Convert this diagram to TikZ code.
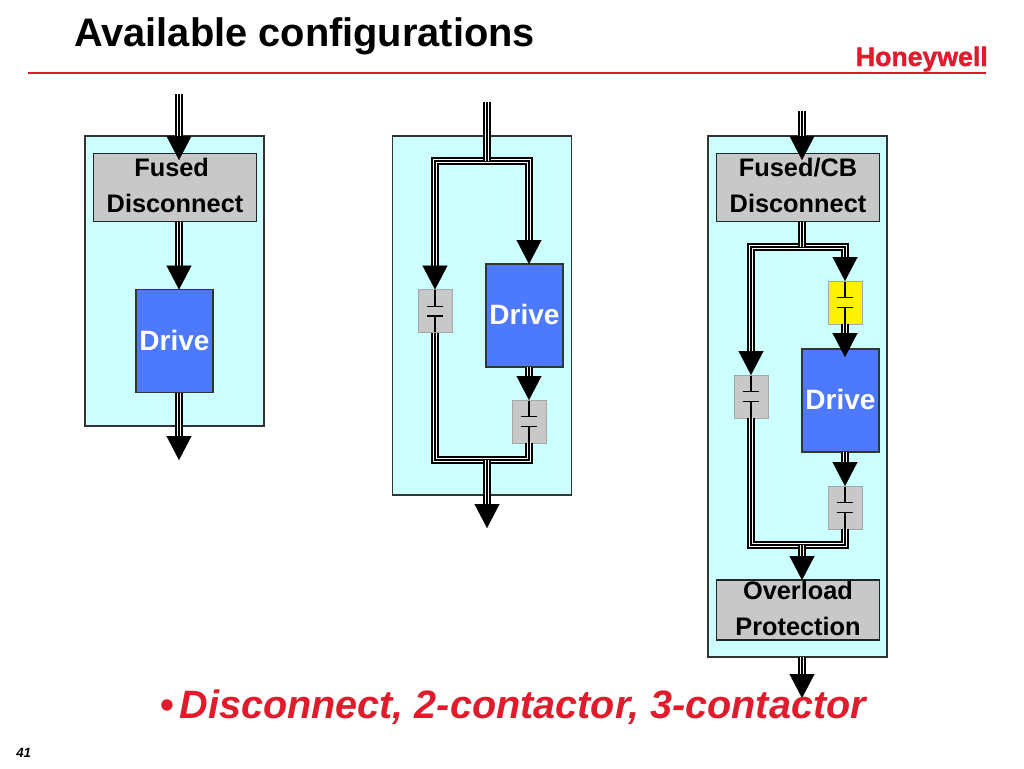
\documentclass[tikz,border=0pt]{standalone}
\usepackage{fontspec}
\setmainfont{Liberation Sans}
\newfontfamily\logofont[FakeBold=1.5]{Liberation Sans Bold}
\usetikzlibrary{calc,arrows.meta}
\definecolor{mycyan}{RGB}{204, 255, 255}
\definecolor{mygray1}{RGB}{200, 200, 200}
\definecolor{myblue}{RGB}{77, 121, 255}
\definecolor{myred}{RGB}{224, 28, 44}
\newcommand{\lowfill}{\rule[-3pt]{0pt}{3pt}}
\tikzset{>=latex}

\begin{document}
\begin{tikzpicture}[
    x = 0.75pt, y = -0.75pt,
    panel/.style = {draw = black!80, line width = 1pt, fill = mycyan, minimum width = 134.25pt, inner sep = 0, outer sep = 0},
    unit/.style = {draw = black!85!mycyan, line width = 1.2pt, fill = mygray1, minimum width = 122pt, align = center, inner sep = 0, outer sep = 0, font = \fontsize{19}{27}\selectfont\bfseries},
    drive/.style = {draw = black!80, line width = 0.9pt, fill = myblue, text = white, text depth = 1.5pt, minimum width = 57.75pt, minimum height = 77.25pt, inner sep = 0, outer sep = 0, font = \fontsize{21}{25}\selectfont\bfseries},
    contactor/.style = {draw = black!35, line width = 0.7pt, fill = mygray1, minimum width = 25.5pt, minimum height = 32.25pt, inner sep = 0, outer sep = 0,
        path picture = {
            \draw[black, line width = 0.9pt] (path picture bounding box.north) -- ++(0, -12.6pt) ++(-6.2pt, 0) -- ++(12.4pt, 0);
            \draw[black, line width = 0.9pt] (path picture bounding box.south) -- ++(0, 12.4pt) ++(-6.2pt, 0) -- ++(12.4pt, 0);
        }},
    bus/.style = {line width = 6.4pt, postaction = {draw = white, line width = 3.4pt}, postaction = {draw = black, line width = 2pt}},
    busarrow/.style = {bus, shorten > = 17pt, postaction = {draw = black, line width = 0.1pt, shorten > = 0pt, -{Triangle[width = 18.75pt, length = 18pt]}}}
]
\useasboundingbox (0,0) rectangle (1024,768);

% title and logo
\node[anchor = base west, inner sep = 0, font = \fontsize{29.85}{36}\selectfont\bfseries] (title) at (74,46) {Available configurations};
\node[anchor = base east, inner sep = 0, text = myred, font = \fontsize{20}{24}\selectfont\logofont] (logo) at (988,66) {Honeywell};
\coordinate (ruleL) at (28,73);
\coordinate (ruleR) at (986,73);
\draw[myred, line width = 1.9pt] (ruleL) -- (ruleR);

% panels
\node[panel, minimum height = 217.5pt] (panel1) at (174.5,281) {};
\node[panel, minimum height = 269.25pt] (panel2) at (482,315.5) {};
\node[panel, minimum height = 390.75pt] (panel3) at (797.5,396.5) {};

% disconnect
\node[unit, minimum height = 51pt] (dis1) at (175,187.5) {Fused\hspace*{5pt}\\Disconnect\lowfill};
\node[drive] (drv1) at (174.5,341) {Drive};
\coordinate (in1) at (179,94);
\coordinate (tip1) at (179,160);
\coordinate (out1) at (179,460);
\draw[busarrow] (in1) -- (tip1);
\draw[busarrow] (in1 |- dis1.south) -- (in1 |- drv1.north);
\draw[busarrow] (in1 |- drv1.south) -- (out1);

% 2-contactor
\node[drive] (drv2) at (524.5,315.5) {Drive};
\node[contactor] (con2l) at (435,311) {};
\node[contactor] (con2r) at (529,421.5) {};
\coordinate (in2) at (487,102);
\coordinate (top2) at (487,161);
\coordinate (bot2) at (487,460);
\coordinate (out2) at (487,528);
\draw[busarrow] (top2) -| (con2l.north);
\draw[busarrow] (top2) -| (con2r.north |- drv2.north);
\draw[bus] (in2) -- (top2);
\draw[busarrow] (con2r.north |- drv2.south) -- (con2r.north);
\draw[bus] (con2l.south) |- (bot2);
\draw[bus] (con2r.south) |- (bot2);
\draw[busarrow] (bot2) -- (out2);

% 3-contactor
\node[unit, minimum height = 51pt] (dis3) at (798,187.5) {Fused/CB\\Disconnect\lowfill};
\node[drive] (drv3) at (840.5,400.5) {Drive};
\node[contactor, fill = yellow] (con3y) at (845,302.5) {};
\node[contactor] (con3l) at (751,396.5) {};
\node[contactor] (con3r) at (845,507.5) {};
\node[unit, minimum height = 45pt] (ovl3) at (798,610) {Overload\\Protection\lowfill};
\coordinate (in3) at (802,111);
\coordinate (tip3) at (802,160);
\coordinate (top3) at (802,247);
\coordinate (bot3) at (802,545);
\coordinate (tipd3) at (845,357);
\coordinate (out3) at (802,698);
\draw[busarrow] (in3) -- (tip3);
\draw[busarrow] (top3) -| (con3l.north);
\draw[busarrow] (top3) -| (con3y.north);
\draw[bus] (top3 |- dis3.south) -- (top3);
\draw[busarrow] (con3y.south) -- (tipd3);
\draw[busarrow] (con3r.north |- drv3.south) -- (con3r.north);
\draw[bus] (con3l.south) |- (bot3);
\draw[bus] (con3r.south) |- (bot3);
\draw[busarrow] (bot3) -- (bot3 |- ovl3.north);
\draw[busarrow] (top3 |- panel3.south) -- (out3);

% footer
\node[anchor = base west, inner sep = 0, text = myred, font = \fontsize{29.7}{36}\selectfont\bfseries] (caption) at (160,718) {•\hspace{4pt}\itshape Disconnect, 2-contactor, 3-contactor};
\node[anchor = base west, inner sep = 0, font = \fontsize{10}{12}\selectfont\bfseries\itshape] (page) at (16,757) {41};

\end{tikzpicture}
\end{document}
